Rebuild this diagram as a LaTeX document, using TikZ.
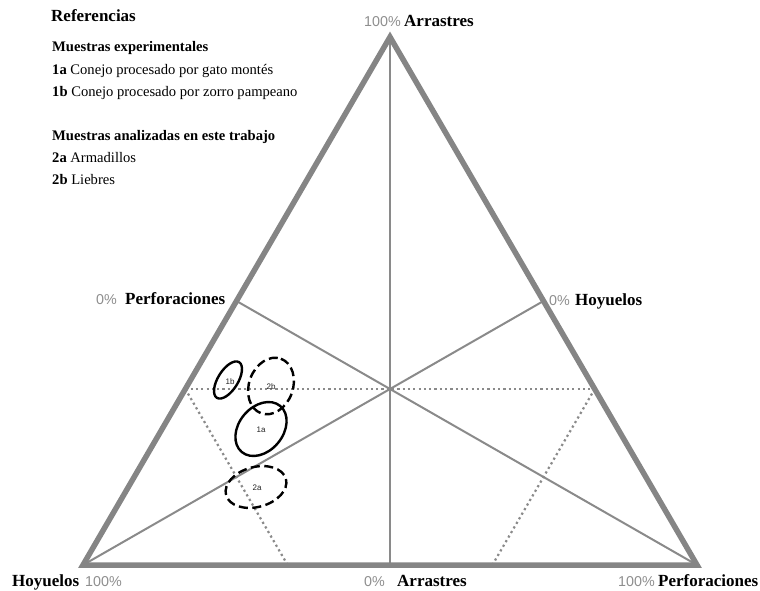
\documentclass[tikz,border=0pt]{standalone}
\usepackage{fontspec}
\usetikzlibrary{calc}
\setmainfont{Liberation Serif}
\newfontfamily\pctfont{Liberation Sans}
\definecolor{frame}{HTML}{858585}
\definecolor{median}{HTML}{8A8A8A}
\definecolor{pctgray}{HTML}{8E8E8E}
\definecolor{smalllbl}{HTML}{222222}
\tikzset{
  outline/.style={draw=frame, line width=5.5pt, line join=miter},
  medianline/.style={draw=median, line width=2pt},
  dotline/.style={draw=median, line width=2.2pt, dash pattern=on 2.2pt off 3.1pt},
  solidell/.style={draw=black, line width=2.4pt},
  dashell/.style={draw=black, line width=2.4pt, dash pattern=on 9pt off 4.5pt},
  elllabel/.style={inner sep=0pt, font=\pctfont\fontsize{8}{9}\selectfont, text=smalllbl},
  legend/.style={anchor=base west, inner sep=0pt, font=\fontsize{14.6}{17}\selectfont},
  corner/.style={anchor=base west, inner sep=0pt, font=\fontsize{17}{20}\selectfont\bfseries},
  pct/.style={anchor=base west, inner sep=0pt, font=\pctfont\fontsize{14.3}{17}\selectfont, text=pctgray},
}
\begin{document}
\begin{tikzpicture}[x=1pt, y=-1pt]
\useasboundingbox (0,0) rectangle (760,591);
% vertices
\coordinate (A) at (390,37);
\coordinate (B) at (83,565);
\coordinate (C) at (697,565);
\coordinate (mAB) at ($(A)!0.5!(B)$);
\coordinate (mAC) at ($(A)!0.5!(C)$);
\coordinate (mBC) at ($(B)!0.5!(C)$);
\coordinate (pL) at ($(B)!0.3333!(A)$);
\coordinate (pR) at ($(C)!0.3333!(A)$);
\coordinate (qL) at ($(B)!0.3333!(C)$);
\coordinate (qR) at ($(C)!0.3333!(B)$);
% medians
\draw[medianline] (A) -- (mBC);
\draw[medianline] (B) -- (mAC);
\draw[medianline] (C) -- (mAB);
% dotted lines
\draw[dotline] (pL) -- (pR);
\draw[dotline] (pL) -- (qL);
\draw[dotline] (pR) -- (qR);
% triangle
\draw[outline] (A) -- (B) -- (C) -- cycle;
% ellipses
\draw[solidell, rotate around={58:(228,380)}] (228,380) ellipse [x radius=21, y radius=10];
\draw[dashell, rotate around={70:(271,386)}] (271,386) ellipse [x radius=29, y radius=22];
\draw[solidell, rotate around={50:(261,429)}] (261,429) ellipse [x radius=30, y radius=22];
\draw[dashell, rotate around={15:(256,487)}] (256,487) ellipse [x radius=31, y radius=20];
\node[elllabel] (l1b) at (230,382) {1b};
\node[elllabel] (l2b) at (271,387) {2b};
\node[elllabel] (l1a) at (261,430) {1a};
\node[elllabel] (l2a) at (257,488) {2a};
% legend
\node[legend, font=\fontsize{17}{20}\selectfont\bfseries] (ref) at (51,22) {Referencias};
\node[legend] (mexp) at (52,52) {\textbf{Muestras experimentales}};
\node[legend] (s1a) at (52,74.5) {\textbf{1a} Conejo procesado por gato montés};
\node[legend] (s1b) at (52,96.5) {\textbf{1b} Conejo procesado por zorro pampeano};
\node[legend] (manal) at (52,140.5) {\textbf{Muestras analizadas en este trabajo}};
\node[legend] (s2a) at (52,162.5) {\textbf{2a} Armadillos};
\node[legend] (s2b) at (52,184.5) {\textbf{2b} Liebres};
% corner labels
\node[pct] (p100A) at (364,26.5) {100\%};
\node[corner] (tA) at (404,26.5) {Arrastres};
\node[corner] (tHoy) at (12,586) {Hoyuelos};
\node[pct] (p100H) at (85,586) {100\%};
\node[pct] (p0A) at (364,586) {0\%};
\node[corner] (tA0) at (397,586) {Arrastres};
\node[pct] (p100P) at (618,586) {100\%};
\node[corner] (tP) at (658,586) {Perforaciones};
\node[pct] (p0P) at (96,304) {0\%};
\node[corner] (tP0) at (125,304) {Perforaciones};
\node[pct] (p0H) at (549,305) {0\%};
\node[corner] (tH0) at (575,305) {Hoyuelos};
\end{tikzpicture}
\end{document}
